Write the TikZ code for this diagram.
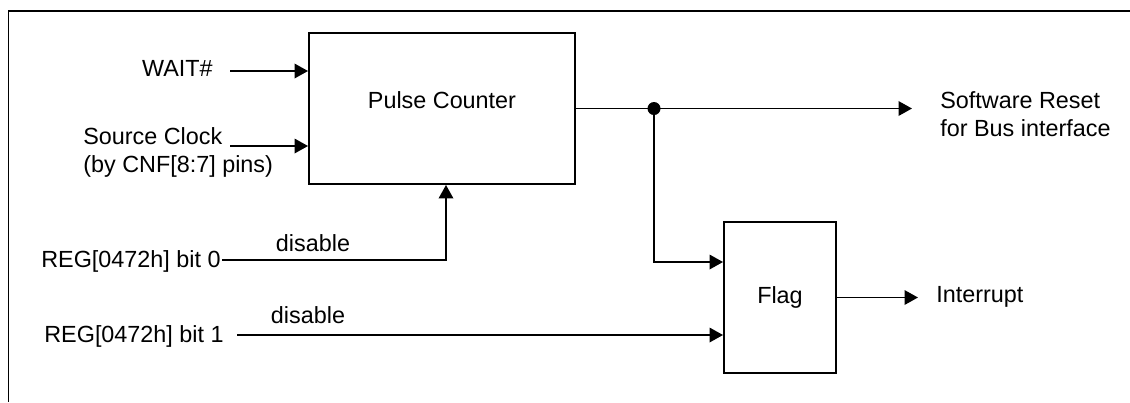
\documentclass[tikz,border=0pt]{standalone}
\usepackage{fontspec}
\setmainfont{Liberation Sans}
\usetikzlibrary{arrows.meta,positioning,calc}

\begin{document}
\begin{tikzpicture}[
    block/.style={draw=black, line width=1.1pt, rectangle, inner sep=0pt},
    signal/.style={line width=1.1pt, -{Triangle[length=0.27cm, width=0.29cm]}},
    wire/.style={line width=1.1pt},
    txt/.style={inner sep=0pt, font=\fontsize{13.3}{15.9}\selectfont},
    frame/.style={draw=black, line width=0.6pt}
]
\useasboundingbox (0,0) rectangle (22.6,-8.04);

% Frame
\draw[frame] (22.6,-0.22) -- (0.17,-0.22) -- (0.17,-8.04);

% Blocks
\node[block, minimum width=5.32cm, minimum height=3.02cm] (pulse) at (8.84,-2.17) {};
\node[txt, anchor=base] (pulsetxt) at (pulse.center) {Pulse Counter};
\node[block, txt, minimum width=2.24cm, minimum height=3.02cm] (flag) at (15.6,-5.95) {Flag};

% Inputs
\node[txt, anchor=base east] (wait) at (4.26,-1.52) {WAIT\#};
\coordinate (waitin) at (4.6,-1.42);
\draw[signal] (waitin) -- (waitin -| pulse.west);

\node[txt, anchor=west, align=left] (clk) at (1.66,-3.04) {Source Clock\\(by CNF[8:7] pins)};
\coordinate (clkin) at (4.6,-2.92);
\draw[signal] (clkin) -- (clkin -| pulse.west);

\node[txt, anchor=base east] (reg0) at (4.42,-5.34) {REG[0472h] bit 0};
\coordinate (reg0out) at (4.44,-5.2);
\coordinate (bend0) at (8.92,-5.2);
\draw[signal] (reg0out) -- (bend0) -- (bend0 |- pulse.south);
\node[txt, anchor=base] (dis0) at (6.26,-5.02) {disable};

\node[txt, anchor=base east] (reg1) at (4.48,-6.84) {REG[0472h] bit 1};
\coordinate (reg1out) at (4.74,-6.7);
\draw[signal] (reg1out) -- (reg1out -| flag.west);
\node[txt, anchor=base] (dis1) at (6.16,-6.46) {disable};

% Outputs
\coordinate (split) at (13.08,-2.17);
\coordinate (resetout) at (18.24,-2.17);
\draw[wire] (pulse.east) -- (split);
\draw[signal] (split) -- (resetout);
\fill (split) circle (0.13);
\coordinate (flagin) at (13.08,-5.24);
\draw[signal] (split) -- (flagin) -- (flagin -| flag.west);
\node[txt, anchor=west, align=left] (reset) at (18.8,-2.29) {Software Reset\\for Bus interface};

\coordinate (intout) at (18.36,-5.95);
\draw[signal] (flag.east) -- (intout);
\node[txt, anchor=base west] (irq) at (18.72,-6.04) {Interrupt};

\end{tikzpicture}
\end{document}
